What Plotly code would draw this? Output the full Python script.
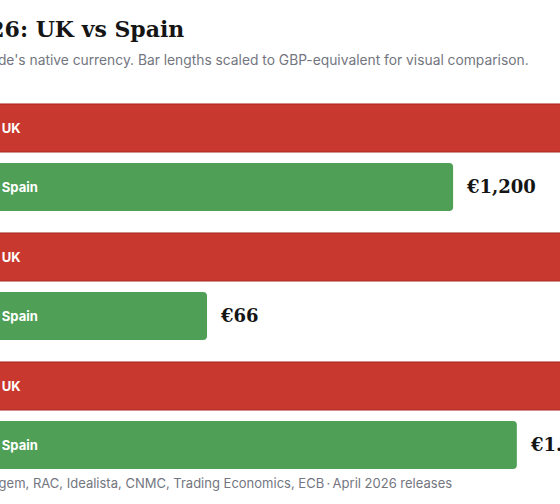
import plotly.graph_objects as go

# --- Data ---
CATEGORIES = ["Average monthly rent", "Monthly energy bill", "Petrol, per litre"]
UK_GBP = [1350, 162, 1.47]
SPAIN_EUR = [1200, 66, 1.49]
UK_LABELS = ["£1,350", "£162", "£1.47"]
SPAIN_LABELS = ["€1,200", "€66", "€1.49"]
EUR_TO_GBP = 0.85

TITLE = "Everyday costs in 2026: UK vs Spain"
SUBTITLE = ("Values shown in each side's native currency. "
            "Bar lengths scaled to GBP-equivalent for visual comparison.")
SOURCE = ("Sources: ONS, Ofgem, RAC, Idealista, CNMC, Trading Economics, "
          "ECB\u2009·\u2009April 2026 releases")

RED = "#c9382f"
RED_EDGE = "#a82822"
GREEN = "#4fa056"
INK = "#151515"
GREY = "#737680"

# bar length = GBP-equivalent as % of the larger of the pair
uk_len = []
spain_len = []
for uk, es in zip(UK_GBP, SPAIN_EUR):
    es_gbp = es * EUR_TO_GBP
    top = max(uk, es_gbp)
    uk_len.append(uk / top * 100)
    spain_len.append(es_gbp / top * 100)

W, H = 560, 504
fig = go.Figure()

fig.add_trace(go.Bar(
    y=CATEGORIES, x=uk_len, orientation="h", name="UK",
    text=["UK"] * len(CATEGORIES),
    textposition="inside", insidetextanchor="start", textangle=0,
    insidetextfont=dict(family="Inter", size=13, color="white", weight="bold"),
    marker=dict(color=RED, line=dict(color=RED_EDGE, width=1)),
    hoverinfo="skip",
))
fig.add_trace(go.Bar(
    y=CATEGORIES, x=spain_len, orientation="h", name="Spain",
    text=["Spain"] * len(CATEGORIES),
    textposition="inside", insidetextanchor="start", textangle=0,
    insidetextfont=dict(family="Inter", size=13, color="white", weight="bold"),
    marker=dict(color=GREEN, line=dict(width=0)),
    hoverinfo="skip",
))

# value labels beside the bars
for cat, ul, sl, ut, st in zip(CATEGORIES, uk_len, spain_len, UK_LABELS, SPAIN_LABELS):
    for xv, txt, shift in [(ul, ut, 29.5), (sl, st, -29.5)]:
        fig.add_annotation(
            x=xv, y=cat, text=txt, showarrow=False,
            xanchor="left", yanchor="middle", xshift=11, yshift=shift + 1,
            font=dict(family="DejaVu Serif", size=18, color=INK, weight="bold"),
        )

# title block and footer (right edges line up with the visible crop)
fig.add_annotation(
    xref="paper", yref="paper", x=186 / W, y=1.165, text=TITLE,
    showarrow=False, xanchor="right", yanchor="middle",
    font=dict(family="DejaVu Serif", size=22, color=INK, weight="bold"),
)
fig.add_annotation(
    xref="paper", yref="paper", x=531 / W, y=1.085, text=SUBTITLE,
    showarrow=False, xanchor="right", yanchor="middle",
    font=dict(family="Inter", size=13.8, color=GREY),
)
fig.add_annotation(
    xref="paper", yref="paper", x=454 / W, y=-0.008, text=SOURCE,
    showarrow=False, xanchor="right", yanchor="middle",
    font=dict(family="Inter", size=13, color=GREY),
)

fig.update_layout(
    width=W, height=H,
    margin=dict(l=0, r=0, t=93, b=24),
    paper_bgcolor="white", plot_bgcolor="white",
    barmode="group", bargap=0.085, bargroupgap=0.186,
    barcornerradius=4,
    showlegend=False,
    font=dict(family="Inter"),
    # start the axis just past zero so the bars' left edges sit off-canvas
    xaxis=dict(range=[0.2, 560 / 600 * 100], visible=False, fixedrange=True),
    yaxis=dict(autorange="reversed", visible=False, fixedrange=True),
    uniformtext=dict(mode=False),
)

fig.write_html(
    "out.html",
    config={"displayModeBar": False},
    post_script="document.body.style.margin='0';",
)
